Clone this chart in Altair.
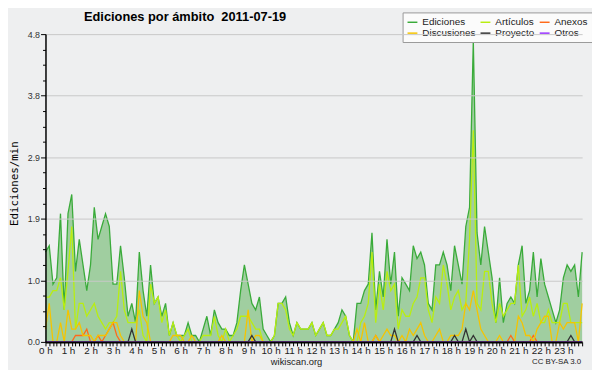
import altair as alt
import pandas as pd

# ---- data: 10-minute bins, edits per minute ----
series_names = ["Ediciones", "Artículos", "Anexos", "Discusiones", "Proyecto", "Otros"]
series_colors = ["#3aab3a", "#b9ee10", "#ff6a1a", "#f5c400", "#333333", "#9933ff"]

ediciones = [
    1.4, 1.5, 0.9, 1.0, 2.0, 0.5, 2.0, 2.3, 1.1, 1.6, 1.2, 0.8,
    1.2, 2.1, 1.6, 1.8, 2.0, 1.8, 0.9, 0.9, 1.5, 1.0, 0.4, 0.6,
    0.3, 1.4, 0.8, 0.4, 1.2, 0.6, 0.7, 0.4, 0.6, 0.1, 0.3, 0.1,
    0.1, 0.1, 0.3, 0.1, 0.1, 0.0, 0.2, 0.4, 0.1, 0.5, 0.3, 0.2,
    0.2, 0.1, 0.1, 0.3, 0.8, 1.2, 0.9, 0.6, 0.5, 0.7, 0.2, 0.1,
    0.0, 0.1, 0.6, 0.6, 0.7, 0.3, 0.1, 0.3, 0.2, 0.2, 0.2, 0.3,
    0.1, 0.2, 0.3, 0.1, 0.1, 0.2, 0.3, 0.5, 0.4, 0.1, 0.0, 0.6,
    0.6, 0.8, 0.9, 1.7, 0.5, 1.1, 0.7, 1.6, 0.9, 1.4, 0.4, 1.0,
    0.9, 0.8, 1.5, 1.3, 1.4, 1.2, 0.6, 0.5, 1.2, 1.2, 1.4, 1.2,
    0.8, 1.5, 1.2, 0.9, 1.8, 2.1, 4.7, 1.7, 1.2, 1.8, 1.4, 1.0,
    0.3, 1.0, 0.3, 0.6, 0.7, 0.6, 1.2, 1.5, 0.6, 0.8, 1.4, 0.7,
    1.3, 0.9, 0.7, 0.5, 0.3, 0.5, 1.0, 1.2, 1.1, 1.2, 0.7, 1.4,
]
articulos = [
    0.7, 0.7, 0.8, 0.8, 1.0, 0.5, 1.1, 1.8, 0.2, 0.6, 0.6, 0.4,
    0.5, 0.6, 0.4, 0.3, 0.2, 0.3, 0.3, 0.4, 1.1, 0.5, 0.3, 0.3,
    0.3, 0.5, 0.1, 0.0, 0.9, 0.6, 0.7, 0.3, 0.5, 0.1, 0.3, 0.1,
    0.0, 0.1, 0.2, 0.0, 0.0, 0.0, 0.1, 0.1, 0.1, 0.4, 0.1, 0.0,
    0.2, 0.0, 0.1, 0.2, 0.4, 0.4, 0.4, 0.3, 0.2, 0.2, 0.0, 0.0,
    0.0, 0.1, 0.6, 0.6, 0.5, 0.2, 0.1, 0.3, 0.2, 0.2, 0.2, 0.3,
    0.1, 0.2, 0.3, 0.1, 0.1, 0.2, 0.2, 0.3, 0.4, 0.1, 0.0, 0.0,
    0.3, 0.4, 0.6, 1.4, 0.3, 0.9, 0.5, 1.1, 0.8, 0.9, 0.2, 0.5,
    0.4, 0.4, 0.6, 0.7, 1.0, 1.0, 0.5, 0.3, 0.7, 0.6, 1.2, 0.9,
    0.5, 0.7, 0.8, 0.5, 0.6, 1.6, 3.3, 0.6, 0.5, 1.1, 1.1, 0.6,
    0.3, 0.6, 0.4, 0.5, 0.6, 0.6, 1.2, 0.4, 0.5, 0.7, 0.4, 0.6,
    0.3, 0.3, 0.5, 0.3, 0.3, 0.3, 0.6, 0.6, 0.3, 0.3, 0.3, 0.3,
]
anexos = [
    0.0, 0.0, 0.0, 0.0, 0.0, 0.0, 0.0, 0.0, 0.1, 0.1, 0.1, 0.2,
    0.0, 0.0, 0.1, 0.0, 0.1, 0.2, 0.3, 0.1, 0.0, 0.0, 0.0, 0.0,
    0.0, 0.0, 0.0, 0.0, 0.0, 0.0, 0.0, 0.0, 0.0, 0.0, 0.0, 0.0,
    0.0, 0.0, 0.0, 0.0, 0.0, 0.0, 0.0, 0.0, 0.0, 0.0, 0.0, 0.0,
    0.0, 0.0, 0.0, 0.0, 0.0, 0.0, 0.0, 0.0, 0.0, 0.0, 0.0, 0.0,
    0.0, 0.0, 0.0, 0.0, 0.0, 0.0, 0.0, 0.0, 0.0, 0.0, 0.0, 0.0,
    0.0, 0.0, 0.0, 0.0, 0.0, 0.0, 0.0, 0.0, 0.0, 0.0, 0.0, 0.0,
    0.0, 0.0, 0.0, 0.0, 0.1, 0.0, 0.0, 0.0, 0.0, 0.0, 0.0, 0.0,
    0.0, 0.0, 0.0, 0.0, 0.0, 0.0, 0.0, 0.0, 0.0, 0.0, 0.0, 0.0,
    0.0, 0.0, 0.0, 0.0, 0.0, 0.0, 0.0, 0.0, 0.0, 0.0, 0.0, 0.0,
    0.0, 0.0, 0.0, 0.0, 0.1, 0.0, 0.0, 0.0, 0.0, 0.0, 0.1, 0.0,
    0.0, 0.0, 0.0, 0.0, 0.0, 0.0, 0.0, 0.0, 0.0, 0.0, 0.0, 0.0,
]
discusiones = [
    0.2, 0.6, 0.0, 0.0, 0.3, 0.0, 0.5, 0.2, 0.2, 0.3, 0.1, 0.1,
    0.1, 0.0, 0.1, 0.1, 0.1, 0.2, 0.3, 0.3, 0.1, 0.0, 0.0, 0.0,
    0.0, 0.8, 0.4, 0.3, 0.0, 0.0, 0.0, 0.0, 0.0, 0.0, 0.1, 0.1,
    0.1, 0.0, 0.0, 0.1, 0.0, 0.0, 0.0, 0.0, 0.0, 0.0, 0.0, 0.1,
    0.0, 0.0, 0.0, 0.0, 0.0, 0.0, 0.5, 0.0, 0.1, 0.1, 0.0, 0.0,
    0.0, 0.0, 0.0, 0.0, 0.0, 0.0, 0.0, 0.0, 0.0, 0.0, 0.0, 0.0,
    0.0, 0.0, 0.0, 0.0, 0.0, 0.0, 0.0, 0.0, 0.0, 0.0, 0.0, 0.2,
    0.0, 0.3, 0.0, 0.0, 0.1, 0.0, 0.1, 0.2, 0.1, 0.1, 0.0, 0.1,
    0.0, 0.2, 0.1, 0.2, 0.3, 0.1, 0.0, 0.0, 0.1, 0.2, 0.0, 0.0,
    0.1, 0.1, 0.1, 0.2, 0.6, 0.5, 0.8, 0.5, 0.2, 0.1, 0.0, 0.0,
    0.0, 0.1, 0.0, 0.0, 0.0, 0.0, 0.4, 0.3, 0.1, 0.1, 0.0, 0.2,
    0.3, 0.4, 0.4, 0.0, 0.0, 0.3, 0.2, 0.3, 0.3, 0.3, 0.0, 0.6,
]
proyecto = [
    0.0, 0.0, 0.0, 0.0, 0.0, 0.0, 0.0, 0.0, 0.0, 0.0, 0.0, 0.0,
    0.0, 0.0, 0.0, 0.0, 0.0, 0.0, 0.0, 0.0, 0.0, 0.0, 0.0, 0.2,
    0.0, 0.0, 0.0, 0.0, 0.0, 0.0, 0.0, 0.0, 0.0, 0.0, 0.0, 0.0,
    0.0, 0.0, 0.0, 0.0, 0.0, 0.0, 0.0, 0.0, 0.0, 0.0, 0.0, 0.0,
    0.0, 0.0, 0.0, 0.0, 0.0, 0.0, 0.0, 0.1, 0.0, 0.0, 0.0, 0.0,
    0.0, 0.0, 0.0, 0.0, 0.0, 0.0, 0.0, 0.0, 0.0, 0.0, 0.0, 0.0,
    0.0, 0.0, 0.0, 0.0, 0.0, 0.0, 0.0, 0.0, 0.0, 0.0, 0.0, 0.0,
    0.0, 0.0, 0.0, 0.0, 0.0, 0.0, 0.0, 0.0, 0.0, 0.2, 0.0, 0.0,
    0.0, 0.0, 0.0, 0.1, 0.0, 0.0, 0.0, 0.0, 0.0, 0.0, 0.0, 0.0,
    0.0, 0.1, 0.0, 0.0, 0.2, 0.0, 0.1, 0.0, 0.0, 0.0, 0.0, 0.0,
    0.0, 0.0, 0.0, 0.0, 0.0, 0.0, 0.0, 0.0, 0.0, 0.0, 0.0, 0.0,
    0.0, 0.0, 0.0, 0.0, 0.0, 0.0, 0.0, 0.0, 0.1, 0.0, 0.0, 0.0,
]
otros = [0.0] * 144  # flat at zero in the reference

y_ticks = [round(0.24 * k, 2) for k in range(21)]
x_ticks = [k / 6 for k in range(144)]

rows = []
for name, vals in zip(series_names,
                      [ediciones, articulos, anexos, discusiones, proyecto, otros]):
    for i, v in enumerate(vals):
        rows.append({"serie": name, "hora": i / 6, "valor": v, "orden": series_names.index(name)})
df = pd.DataFrame(rows)

FONT = "Liberation Sans"

x_enc = alt.X(
    "hora:Q",
    scale=alt.Scale(domain=[0, 143 / 6], nice=False, zero=False),
    axis=alt.Axis(
        values=x_ticks,
        labelExpr="abs(datum.value - round(datum.value)) < 0.01 ? round(datum.value) + ' h' : ''",
        labelOverlap=False,
        labelFlush=False,
        labelFont=FONT, labelFontSize=10, labelColor="#222",
        labelPadding=0,
        tickSize=4, tickColor="black", tickWidth=1,
        domainColor="black", domainWidth=2,
        grid=False,
        title="wikiscan.org", titleFont=FONT, titleFontSize=9.5, titleFontWeight="normal",
        titleColor="#222", titleX=254, titleY=23, titleBaseline="alphabetic",
        zindex=1,
    ),
)
major_test = "abs(datum.value / 0.96 - round(datum.value / 0.96)) < 0.001"
y_enc = alt.Y(
    "valor:Q",
    scale=alt.Scale(domain=[0, 4.8], nice=False),
    axis=alt.Axis(
        values=y_ticks,
        labelExpr=major_test + " ? format(datum.value, '.1f') : ''",
        labelOverlap=False,
        labelFont=FONT, labelFontSize=9, labelColor="#333", labelPadding=1,
        tickColor="black", tickWidth=1,
        tickSize={"condition": {"test": major_test, "value": 5}, "value": 3},
        gridOpacity={"condition": {"test": major_test, "value": 1}, "value": 0},
        grid=True, gridColor="#c8c8c8", gridWidth=1,
        domainColor="black", domainWidth=1.5,
        title="Ediciones/min", titleFont="DejaVu Sans Mono", titleFontSize=11,
        titleFontWeight="normal", titleColor="black",
        titleX=-31, titleY=151, titleAngle=270, titleBaseline="middle",
        zindex=1,
    ),
)

base = alt.Chart(df)

area = base.transform_filter(alt.datum.serie == "Ediciones").mark_area(
    color="#8cc68c", opacity=0.8, interpolate="linear"
).encode(x=x_enc, y=y_enc)

lines = base.mark_line(strokeWidth=1.3, interpolate="linear").encode(
    x=x_enc,
    y=y_enc,
    color=alt.Color(
        "serie:N",
        scale=alt.Scale(domain=series_names, range=series_colors),
        legend=alt.Legend(
            orient="none", legendX=362, legendY=-22,
            direction="horizontal", columns=3, title=None,
            symbolType="stroke", symbolStrokeWidth=1.5, symbolSize=100,
            labelFont=FONT, labelFontSize=10, labelColor="#222",
            fillColor="#fbfbfb", strokeColor="#999999",
            padding=4, rowPadding=0, columnPadding=2, symbolOffset=0,
            labelOffset=4,
        ),
    ),
    order=alt.Order("orden:Q"),
)

cc = alt.Chart(alt.Data(values=[{"t": "CC BY-SA 3.0"}])).mark_text(
    font=FONT, fontSize=8, align="right", baseline="alphabetic", color="#222"
).encode(x=alt.value(543), y=alt.value(334), text="t:N")

chart = alt.layer(area, lines, cc).properties(
    width=544,
    height=312,
    autosize="none",
    padding={"left": 38, "top": 24, "right": 10, "bottom": 26},
    background="#eeeff0",
    title=alt.TitleParams(
        "Ediciones por ámbito\u00a0\u00a02011-07-19",
        anchor="start", dx=39, dy=13, font=FONT, fontSize=13, fontWeight="bold",
        color="black", frame="group", offset=-9, baseline="alphabetic",
    ),
).configure_view(stroke=None)

chart.save("out.html", embed_options={"renderer": "svg", "actions": False})
